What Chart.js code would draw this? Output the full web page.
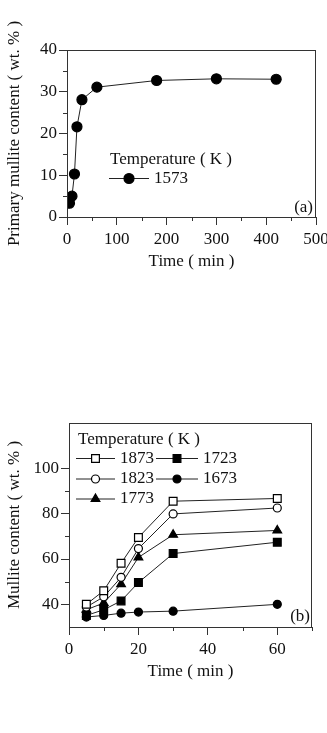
<!DOCTYPE html>
<html>
<head>
<meta charset="UTF-8">
<title>Mullite content vs time</title>
<script src="https://cdn.jsdelivr.net/npm/chart.js"></script>
<style>
  body { margin: 0; background: #fff; }
  .panel { position: absolute; left: 0; width: 327px; }
  #panelA { top: 0; height: 280px; }
  #panelB { top: 380px; height: 302px; }
</style>
</head>
<body>
<div class="panel" id="panelA"><canvas id="chartA"></canvas></div>
<div class="panel" id="panelB"><canvas id="chartB"></canvas></div>
<script>
// (a) primary mullite at 1573 K
const timeA = [5, 10, 15, 20, 30, 60, 180, 300, 420];
const mullite1573 = [3.3, 5.0, 10.3, 21.6, 28.1, 31.1, 32.7, 33.1, 33.0];
const xLabelsA = [0, 100, 200, 300, 400, 500];
const yLabelsA = [0, 10, 20, 30, 40];

// (b) mullite content at higher temperatures
const timeB = [5, 10, 15, 20, 30, 60];
const mullite1873 = [40.0, 46.0, 58.1, 69.5, 85.5, 86.7];
const mullite1823 = [38.8, 43.3, 51.9, 64.6, 79.9, 82.5];
const mullite1773 = [37.6, 40.6, 48.9, 60.7, 70.7, 72.6];
const mullite1723 = [35.1, 37.6, 41.5, 49.6, 62.4, 67.4];
const mullite1673 = [34.4, 35.1, 36.1, 36.6, 37.0, 40.0];
const xLabelsB = [0, 20, 40, 60];
const yLabelsB = [40, 60, 80, 100];
const yTicksB = [40, 50, 60, 70, 80, 90, 100];

const FONT = "'Liberation Serif', 'Times New Roman', serif";
const INK = '#111';

function pts(xs, ys) {
  return xs.map((x, i) => ({ x: x, y: ys[i] }));
}

function series(label, ys, xs, style, filled, radius) {
  return {
    label: label,
    data: pts(xs, ys),
    borderColor: '#222',
    borderWidth: 1,
    pointStyle: style,
    pointRadius: radius,
    pointHoverRadius: radius,
    pointBorderColor: '#000',
    pointBorderWidth: 1.2,
    pointBackgroundColor: filled ? '#000' : '#fff',
    tension: 0
  };
}

function marker(ctx, style, filled, radius, x, y) {
  ctx.save();
  ctx.strokeStyle = '#000';
  ctx.fillStyle = filled ? '#000' : '#fff';
  ctx.lineWidth = 1.2;
  if (Chart.helpers && Chart.helpers.drawPoint) {
    Chart.helpers.drawPoint(ctx, { pointStyle: style, radius: radius, rotation: 0, borderWidth: 1.2 }, x, y);
  } else {
    ctx.beginPath();
    ctx.arc(x, y, radius, 0, Math.PI * 2);
    ctx.fill();
    ctx.stroke();
  }
  ctx.restore();
}

// frame, minor ticks, legend and panel tag
function decorPlugin(legend, tag) {
  return {
    id: 'decor',
    afterDraw(chart) {
      const ctx = chart.ctx;
      const a = chart.chartArea;
      ctx.save();
      ctx.strokeStyle = '#333';
      ctx.lineWidth = 1;
      ctx.strokeRect(a.left + 0.5, a.top + 0.5, a.right - a.left - 1, a.bottom - a.top);

      // minor ticks
      const xs = chart.scales.x, ys = chart.scales.y;
      ctx.beginPath();
      xs.ticks.forEach(t => {
        if (!xs.options.majors.includes(t.value)) {
          const px = Math.round(xs.getPixelForValue(t.value)) + 0.5;
          ctx.moveTo(px, a.bottom);
          ctx.lineTo(px, a.bottom + 4);
        }
      });
      ys.ticks.forEach(t => {
        if (!ys.options.majors.includes(t.value) && ys.options.tickSet.includes(t.value)) {
          const py = Math.round(ys.getPixelForValue(t.value)) + 0.5;
          ctx.moveTo(a.left, py);
          ctx.lineTo(a.left - 4, py);
        }
      });
      ctx.stroke();

      ctx.fillStyle = INK;
      ctx.font = '17px ' + FONT;
      ctx.textBaseline = 'middle';
      ctx.textAlign = 'left';
      ctx.fillText(legend.title, a.left + legend.tx, a.top + legend.ty);
      legend.rows.forEach(r => {
        const y = a.top + r.y;
        ctx.beginPath();
        ctx.strokeStyle = '#222';
        ctx.lineWidth = 1;
        ctx.moveTo(a.left + r.x0, y);
        ctx.lineTo(a.left + r.x1, y);
        ctx.stroke();
        marker(ctx, r.style, r.filled, r.radius, a.left + (r.x0 + r.x1) / 2, y);
        ctx.fillStyle = INK;
        ctx.fillText(r.label, a.left + r.x1 + 5, y);
      });

      ctx.textAlign = 'right';
      ctx.fillText(tag.text, a.right - tag.dx, a.bottom - tag.dy);
      ctx.restore();
    }
  };
}

function axisX(min, max, step, majors, title, height, titlePad) {
  return {
    type: 'linear', min: min, max: max, majors: majors,
    afterFit(s) { s.height = height; s.paddingLeft = 0; s.paddingRight = 0; },
    border: { display: true, color: '#333', width: 1 },
    grid: {
      display: true, drawOnChartArea: false, drawTicks: true, tickLength: 8,
      tickColor: c => majors.includes(c.tick.value) ? '#333' : 'rgba(0,0,0,0)'
    },
    ticks: {
      stepSize: step, padding: 4, color: INK, maxRotation: 0, autoSkip: false,
      font: { family: FONT, size: 17 },
      callback: v => majors.includes(v) ? String(v) : ''
    },
    title: {
      display: true, text: title, color: INK,
      font: { family: FONT, size: 17 }, padding: { top: 0, bottom: titlePad }
    }
  };
}

function axisY(min, max, step, majors, tickSet, title, width) {
  return {
    type: 'linear', min: min, max: max, majors: majors, tickSet: tickSet,
    afterFit(s) { s.width = width; s.paddingTop = 0; s.paddingBottom = 0; },
    border: { display: true, color: '#333', width: 1 },
    grid: {
      display: true, drawOnChartArea: false, drawTicks: true, tickLength: 8,
      tickColor: c => majors.includes(c.tick.value) ? '#333' : 'rgba(0,0,0,0)'
    },
    ticks: {
      stepSize: step, padding: 2, color: INK, autoSkip: false,
      font: { family: FONT, size: 17 },
      callback: v => majors.includes(v) ? String(v) : ''
    },
    title: {
      display: true, text: title, color: INK,
      font: { family: FONT, size: 17 }, padding: { top: 4, bottom: 0 }
    }
  };
}

Chart.defaults.animation = false;

new Chart(document.getElementById('chartA'), {
  type: 'line',
  data: { datasets: [series('1573', mullite1573, timeA, 'circle', true, 5)] },
  options: {
    responsive: true,
    maintainAspectRatio: false,
    layout: { padding: { left: 0, top: 50, right: 11, bottom: 0 } },
    plugins: { legend: { display: false }, tooltip: { enabled: false } },
    scales: {
      x: axisX(0, 500, 50, xLabelsA, 'Time ( min )', 63, 8),
      y: axisY(0, 40, 5, yLabelsA, [5, 15, 25, 35], 'Primary mullite content ( wt. % )', 67)
    }
  },
  plugins: [decorPlugin({
    title: 'Temperature ( K )', tx: 43, ty: 109.5,
    rows: [{ label: '1573', style: 'circle', filled: true, radius: 5, x0: 42, x1: 82, y: 128.5 }]
  }, { text: '(a)', dx: 3, dy: 9 })]
});

new Chart(document.getElementById('chartB'), {
  type: 'line',
  data: {
    datasets: [
      series('1873', mullite1873, timeB, 'rect', false, 5.5),
      series('1823', mullite1823, timeB, 'circle', false, 4),
      series('1773', mullite1773, timeB, 'triangle', true, 5),
      series('1723', mullite1723, timeB, 'rect', true, 5.5),
      series('1673', mullite1673, timeB, 'circle', true, 4)
    ]
  },
  options: {
    responsive: true,
    maintainAspectRatio: false,
    layout: { padding: { left: 0, top: 43, right: 15, bottom: 0 } },
    plugins: { legend: { display: false }, tooltip: { enabled: false } },
    scales: {
      x: axisX(0, 70, 10, xLabelsB, 'Time ( min )', 55, 0),
      y: axisY(30, 120, 10, yLabelsB, yTicksB, 'Mullite content ( wt. % )', 69)
    }
  },
  plugins: [decorPlugin({
    title: 'Temperature ( K )', tx: 9, ty: 17,
    rows: [
      { label: '1873', style: 'rect', filled: false, radius: 5.5, x0: 7, x1: 46, y: 35.5 },
      { label: '1723', style: 'rect', filled: true, radius: 5.5, x0: 87, x1: 129, y: 35.5 },
      { label: '1823', style: 'circle', filled: false, radius: 4, x0: 7, x1: 46, y: 56 },
      { label: '1673', style: 'circle', filled: true, radius: 4, x0: 87, x1: 129, y: 56 },
      { label: '1773', style: 'triangle', filled: true, radius: 5, x0: 7, x1: 46, y: 76 }
    ]
  }, { text: '(b)', dx: 2, dy: 10 })]
});
</script>
</body>
</html>
